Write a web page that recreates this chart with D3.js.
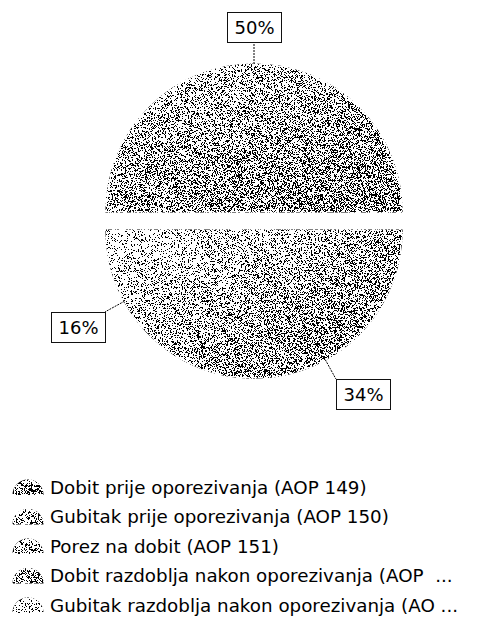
<!DOCTYPE html>
<html>
<head>
<meta charset="utf-8">
<script src="https://cdn.jsdelivr.net/npm/d3@7"></script>
<style>
  body { margin: 0; background: #fff; }
  text { font-family: "DejaVu Sans", sans-serif; fill: #000; }
</style>
</head>
<body>
<script>
// chart data
var categories = [
  "Dobit prije oporezivanja (AOP 149)",
  "Gubitak prije oporezivanja (AOP 150)",
  "Porez na dobit (AOP 151)",
  "Dobit razdoblja nakon oporezivanja (AOP  ...",
  "Gubitak razdoblja nakon oporezivanja (AO ..."
];
var values = [50, 0, 16, 34, 0];
var shades = ["#a8a8a8", "#c8c8c8", "#c2c2c2", "#ababab", "#eeeeee"];

// layout
var width = 489, height = 644;
var cx = 254, cy = 230, radius = 148;
var explodeIndex = 0, explodeBy = 18;

var svg = d3.select("body").append("svg")
    .attr("width", width)
    .attr("height", height);

var defs = svg.append("defs");

// light -> dark diagonal gradient for each series
shades.forEach(function(c, i) {
  var g = defs.append("linearGradient")
      .attr("id", "grad" + i)
      .attr("x1", "10%").attr("y1", "0%")
      .attr("x2", "90%").attr("y2", "100%");
  g.append("stop").attr("offset", "0%").attr("stop-color", d3.color(c).brighter(0.7));
  g.append("stop").attr("offset", "50%").attr("stop-color", c);
  g.append("stop").attr("offset", "100%").attr("stop-color", d3.color(c).darker(0.5));
});

// stipple / dither look of the old bitmap
var f = defs.append("filter")
    .attr("id", "dither")
    .attr("color-interpolation-filters", "sRGB");
f.append("feTurbulence")
    .attr("type", "fractalNoise")
    .attr("baseFrequency", 1.7)
    .attr("numOctaves", 1)
    .attr("seed", 4)
    .attr("result", "t");
f.append("feColorMatrix")
    .attr("in", "t")
    .attr("type", "matrix")
    .attr("values", "-4 0 0 0 2.5  -4 0 0 0 2.5  -4 0 0 0 2.5  0 0 0 0 1")
    .attr("result", "m");
f.append("feComposite")
    .attr("in", "SourceGraphic")
    .attr("in2", "m")
    .attr("operator", "arithmetic")
    .attr("k1", 0).attr("k2", 1).attr("k3", 1).attr("k4", -0.5)
    .attr("result", "s");
var ct = f.append("feComponentTransfer").attr("in", "s").attr("result", "bw");
["feFuncR", "feFuncG", "feFuncB"].forEach(function(fn) {
  ct.append(fn).attr("type", "discrete").attr("tableValues", "0 1");
});
ct.append("feFuncA").attr("type", "linear").attr("slope", 0).attr("intercept", 1);
f.append("feComposite")
    .attr("in", "bw")
    .attr("in2", "SourceGraphic")
    .attr("operator", "in");

var total = d3.sum(values);

// counter-clockwise, starting at 3 o'clock
var pie = d3.pie()
    .sort(null)
    .startAngle(Math.PI / 2)
    .endAngle(Math.PI / 2 - 2 * Math.PI)
    .value(d => d);

var arcs = pie(values);

var arc = d3.arc().innerRadius(0).outerRadius(radius);

function midAngle(d) { return (d.startAngle + d.endAngle) / 2; }

function offset(d) {
  var k = d.index === explodeIndex ? explodeBy : 0;
  var a = midAngle(d);
  return [k * Math.sin(a), -k * Math.cos(a)];
}

var chart = svg.append("g")
    .attr("transform", "translate(" + cx + "," + cy + ")");

chart.append("g")
    .attr("filter", "url(#dither)")
  .selectAll("path")
  .data(arcs.filter(d => d.value > 0))
  .enter()
  .append("path")
    .attr("transform", d => "translate(" + offset(d) + ")")
    .attr("d", arc)
    .attr("fill", d => "url(#grad" + d.index + ")")
    .attr("stroke", "#fff")
    .attr("stroke-width", 1.2);

// data labels with leader lines
var labels = chart.selectAll("g.label")
  .data(arcs.filter(d => d.value > 0))
  .enter()
  .append("g")
    .attr("class", "label");

labels.each(function(d) {
  var g = d3.select(this);
  var a = midAngle(d);
  var o = offset(d);
  var dx = Math.sin(a), dy = -Math.cos(a);
  var x0 = o[0] + radius * dx, y0 = o[1] + radius * dy;
  var x1 = x0 + 22 * dx, y1 = y0 + 22 * dy;

  g.append("line")
    .attr("x1", x0).attr("y1", y0)
    .attr("x2", x1).attr("y2", y1)
    .attr("stroke", "#000")
    .attr("stroke-width", 1)
    .attr("stroke-dasharray", "2,1");

  var t = g.append("text")
    .attr("font-size", 18)
    .text(Math.round(d.value / total * 100) + "%");
  var bb = t.node().getBBox();
  var bw = Math.round(bb.width + 14), bh = 30;

  var bx = dx > 0.2 ? x1 : (dx < -0.2 ? x1 - bw : x1 - bw / 2);
  var by = dy > 0 ? y1 : y1 - bh;
  bx = Math.round(bx); by = Math.round(by);

  g.insert("rect", "text")
    .attr("x", bx + 0.5).attr("y", by + 0.5)
    .attr("width", bw).attr("height", bh)
    .attr("fill", "#fff")
    .attr("stroke", "#111")
    .attr("stroke-width", 1);

  t.attr("x", bx + bw / 2 + 0.5)
   .attr("y", by + bh / 2 + 7)
   .attr("text-anchor", "middle");
});

// legend
var legendArc = d3.arc().innerRadius(0).outerRadius(15.5)
    .startAngle(-Math.PI / 2).endAngle(Math.PI / 2);

var legend = svg.append("g")
    .attr("transform", "translate(0,487)");

var rows = legend.selectAll("g")
  .data(categories)
  .enter()
  .append("g")
    .attr("transform", (d, i) => "translate(0," + (i * 29.5) + ")");

rows.append("path")
    .attr("transform", "translate(28,8)")
    .attr("d", legendArc)
    .attr("fill", (d, i) => "url(#grad" + i + ")")
    .attr("filter", "url(#dither)");

rows.append("text")
    .attr("x", 50)
    .attr("y", 6.5)
    .attr("font-size", 18.3)
    .style("white-space", "pre")
    .text(d => d);
</script>
</body>
</html>
